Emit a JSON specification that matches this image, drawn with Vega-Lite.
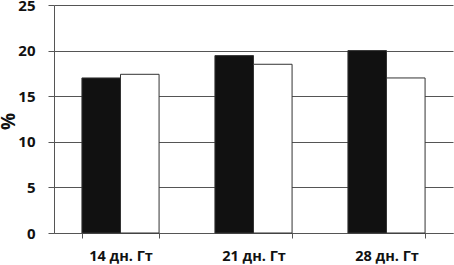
{
  "$schema": "https://vega.github.io/schema/vega-lite/v6.json",
  "width": 399,
  "height": 228,
  "autosize": "none",
  "padding": {"left": 54, "top": 5, "right": 1, "bottom": 32},
  "background": "white",
  "data": {"values": [
    {"group": "14 дн. Гт", "series": "A", "value": 17.0},
    {"group": "14 дн. Гт", "series": "B", "value": 17.4},
    {"group": "21 дн. Гт", "series": "A", "value": 19.45},
    {"group": "21 дн. Гт", "series": "B", "value": 18.5},
    {"group": "28 дн. Гт", "series": "A", "value": 20.0},
    {"group": "28 дн. Гт", "series": "B", "value": 17.0}
  ]},
  "config": {
    "view": {"stroke": null},
    "font": "Open Sans"
  },
  "mark": {"type": "bar", "stroke": "#333", "strokeWidth": 1},
  "encoding": {
    "x": {
      "field": "group", "type": "nominal", "sort": null,
      "scale": {"paddingInner": 0.42, "paddingOuter": 0.21},
      "axis": {
        "title": null, "labelAngle": 0, "labelFont": "Open Sans", "labelFontWeight": "bold",
        "labelFontSize": 14.5, "labelColor": "#111", "labelPadding": 11,
        "tickBand": "extent", "tickColor": "#555", "tickSize": 5, "domainColor": "#555",
        "grid": false
      }
    },
    "xOffset": {"field": "series", "type": "nominal", "scale": {"paddingInner": 0}},
    "y": {
      "field": "value", "type": "quantitative",
      "scale": {"domain": [0, 25], "nice": false},
      "axis": {
        "title": "%", "titleFont": "Open Sans", "titleFontSize": 19, "titleFontWeight": "bold",
        "titleColor": "#111", "titleX": -36, "titleY": 116, "titleAngle": 270,
        "titleAlign": "center", "titleBaseline": "bottom",
        "values": [0, 5, 10, 15, 20, 25], "labelFont": "Open Sans", "labelFontSize": 15,
        "labelFontWeight": "bold", "labelColor": "#111", "labelPadding": 13,
        "tickSize": 6, "tickColor": "#555", "domainColor": "#555",
        "grid": true, "gridColor": "#555", "gridWidth": 1
      }
    },
    "fill": {
      "field": "series", "type": "nominal",
      "scale": {"domain": ["A", "B"], "range": ["#111111", "#ffffff"]},
      "legend": null
    }
  }
}
